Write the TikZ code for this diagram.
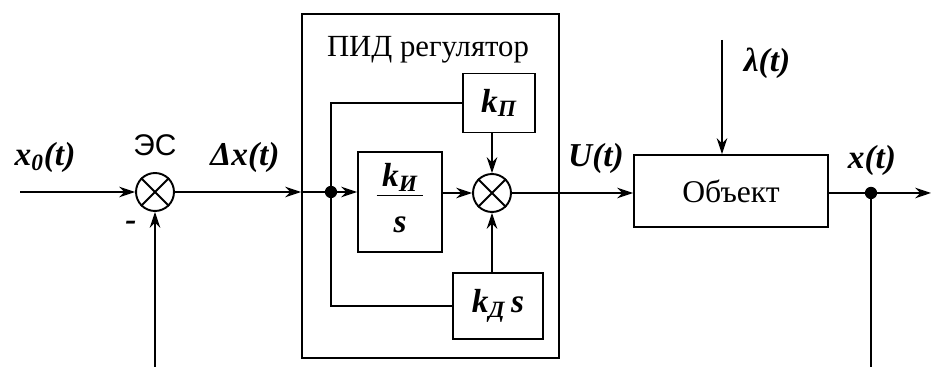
\documentclass[tikz,border=0pt]{standalone}
\usepackage{fontspec}
\setmainfont{Liberation Serif}
\newfontfamily\essans{Liberation Sans}
\usepackage{tikz}
\usetikzlibrary{arrows.meta,calc,positioning}

\begin{document}
\begin{tikzpicture}[x=0.02cm,y=-0.02cm,line width=1.1pt,>={Stealth[length=9pt,width=6pt]},
  blk/.style={draw,line width=1.1pt,inner sep=0pt,align=center},
  sum/.style={draw,circle,line width=1.1pt,minimum size=0.76cm,inner sep=0pt},
  lbl/.style={font=\fontsize{19}{22}\selectfont\bfseries\itshape},
  txt/.style={font=\fontsize{17.5}{20}\selectfont}]
\useasboundingbox (0,0) rectangle (931,367);
% blocks
\node[sum] (s1) at (155,192) {};
\draw (s1.north west) -- (s1.south east) (s1.north east) -- (s1.south west);
\node[blk,minimum width=5.14cm,minimum height=6.88cm] (pid) at (430.5,186) {};
\node[txt] (pidtitle) at (428,50) {ПИД регулятор};
\node[blk,lbl,minimum width=1.44cm,minimum height=1.18cm] (kp) at (499,103) {k\textsubscript{П}};
\node[blk,lbl,minimum width=1.68cm,minimum height=2cm] (ki) at (400,202) {\begin{tabular}{@{\,}c@{\,}}k\textsubscript{И}\\[-2pt]\hline\rule{0pt}{21pt}s\end{tabular}};
\node[sum] (s2) at (492,193) {};
\draw (s2.north west) -- (s2.south east) (s2.north east) -- (s2.south west);
\node[blk,lbl,minimum width=1.8cm,minimum height=1.32cm] (kd) at (498,306) {k\textsubscript{Д}\,s};
\node[blk,txt,font=\fontsize{18}{20}\selectfont,minimum width=3.88cm,minimum height=1.44cm] (obj) at (731,191) {Объект};
\coordinate (in) at (20,192);
\coordinate (dist) at (722,40);
\coordinate (out) at (931,193);
\coordinate (fb1) at (155,367);
\coordinate (fb2) at (871,367);
\coordinate (pidin) at (s1.east -| pid.west);
\fill (331,192) circle (3.5pt) coordinate (j1);
\fill (871,193) circle (3.5pt) coordinate (j2);
% connectors
\draw[->] (in) -- (s1.west);
\draw[->] (fb1) -- (s1.south);
\draw[->] (s1.east) -- (pidin);
\draw (pidin) -- (j1);
\draw[->] (j1) -- (j1 -| ki.west);
\draw (j1) |- (kp.west);
\draw (j1) |- (kd.west);
\draw[->] (ki.east |- s2) -- (s2.west);
\draw[->] (kp.south -| s2) -- (s2.north);
\draw[->] (kd.north -| s2) -- (s2.south);
\draw[->] (s2.east) -- (obj.west |- s2);
\draw[->] (dist) -- (dist |- obj.north);
\draw (obj.east |- j2) -- (j2);
\draw[->] (j2) -- (out);
\draw (j2) -- (fb2);
% labels
\node[lbl] (lx0) at (45,157) {x\textsubscript{0}(t)};
\node[txt,font=\fontsize{17}{20}\selectfont\essans] (les) at (155,145) {ЭС};
\node[lbl] (lminus) at (131,226) {-};
\node[lbl] (ldx) at (245,157) {Δx(t)};
\node[lbl] (lu) at (596,158) {U(t)};
\node[lbl] (lx) at (872,160) {x(t)};
\node[lbl] (llam) at (767,63) {λ(t)};
\end{tikzpicture}
\end{document}
